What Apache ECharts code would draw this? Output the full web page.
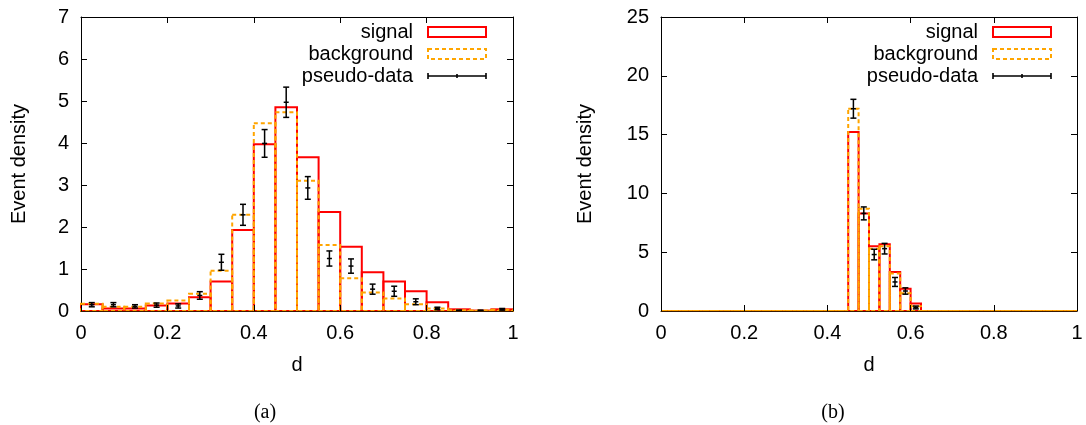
<!DOCTYPE html>
<html>
<head>
<meta charset="utf-8">
<script src="https://cdn.jsdelivr.net/npm/echarts@6/dist/echarts.min.js"></script>
<style>
html,body{margin:0;padding:0;background:#fff;}
#c{width:1086px;height:425px;}
</style>
</head>
<body>
<div id="c"></div>
<script>
// ---------- data ----------
// panel (a): 20 bins of width 0.05
const binStartA = [0,0.05,0.1,0.15,0.2,0.25,0.3,0.35,0.4,0.45,0.5,0.55,0.6,0.65,0.7,0.75,0.8,0.85,0.9,0.95];
const binWidthA = 0.05;
const signalA = [0.16,0.06,0.06,0.13,0.18,0.33,0.70,1.93,3.97,4.85,3.66,2.36,1.53,0.92,0.70,0.47,0.21,0.04,0.01,0.04];
const backgroundA = [0.17,0.10,0.10,0.18,0.25,0.41,0.96,2.29,4.47,4.73,3.10,1.57,0.78,0.44,0.30,0.16,0.06,0.02,0.01,0.03];
const pseudoA = [0.15,0.15,0.11,0.14,0.12,0.37,1.16,2.29,3.99,4.97,2.93,1.25,1.07,0.52,0.47,0.22,0.06,0.01,0.01,0.04];
const pseudoErrA = [0.05,0.05,0.04,0.05,0.05,0.09,0.19,0.25,0.33,0.36,0.27,0.18,0.17,0.12,0.12,0.07,0.03,0.01,0.01,0.02];

// panel (b): 40 bins of width 0.025
const binStartB = [0,0.025,0.05,0.075,0.1,0.125,0.15,0.175,0.2,0.225,0.25,0.275,0.3,0.325,0.35,0.375,0.4,0.425,0.45,0.475,
                   0.5,0.525,0.55,0.575,0.6,0.625,0.65,0.675,0.7,0.725,0.75,0.775,0.8,0.825,0.85,0.875,0.9,0.925,0.95,0.975];
const binWidthB = 0.025;
const signalB = [0,0,0,0,0,0,0,0,0,0,0,0,0,0,0,0,0,0,15.23,8.29,5.50,5.68,3.32,1.90,0.63,0,0,0,0,0,0,0,0,0,0,0,0,0,0,0];
const backgroundB = [0,0,0,0,0,0,0,0,0,0,0,0,0,0,0,0,0,0,17.2,8.70,5.30,5.50,3.18,1.50,0.40,0,0,0,0,0,0,0,0,0,0,0,0,0,0,0];
const pseudoB = [null,null,null,null,null,null,null,null,null,null,null,null,null,null,null,null,null,null,17.2,8.30,4.80,5.30,2.47,1.70,0.30,null,null,null,null,null,null,null,null,null,null,null,null,null,null,null];
const pseudoErrB = [0,0,0,0,0,0,0,0,0,0,0,0,0,0,0,0,0,0,0.80,0.55,0.45,0.45,0.38,0.27,0.12,0,0,0,0,0,0,0,0,0,0,0,0,0,0,0];

const xTicks = [0, 0.2, 0.4, 0.6, 0.8, 1];
const yMaxA = 7, yStepA = 1;
const yMaxB = 25, yStepB = 5;
const captions = ['(a)', '(b)'];
const names = ['signal', 'background', 'pseudo-data'];

// ---------- helpers ----------
const FONT = 'Liberation Sans, Arial, sans-serif';
function histData(starts, width, vals) {
  return starts.map((s, i) => [s, s + width, vals[i]]);
}
function errData(starts, width, vals, errs) {
  const out = [];
  starts.forEach((s, i) => {
    if (vals[i] !== null && vals[i] !== undefined) out.push([s + width / 2, vals[i], vals[i] - errs[i], vals[i] + errs[i]]);
  });
  return out;
}
function histSeries(name, gi, data, color, dashed) {
  return {
    type: 'custom', name: name, xAxisIndex: gi * 2, yAxisIndex: gi * 2,
    data: data, encode: { x: [0, 1], y: 2 }, clip: false, z: dashed ? 3 : 2,
    renderItem: function (params, api) {
      const p0 = api.coord([api.value(0), 0]);
      const p1 = api.coord([api.value(1), api.value(2)]);
      return {
        type: 'rect',
        shape: { x: p0[0], y: p1[1], width: p1[0] - p0[0], height: p0[1] - p1[1] },
        style: { fill: 'none', stroke: color, lineWidth: 2, lineDash: dashed ? [4, 3] : null }
      };
    }
  };
}
function errSeries(name, gi, data) {
  return {
    type: 'custom', name: name, xAxisIndex: gi * 2, yAxisIndex: gi * 2,
    data: data, encode: { x: 0, y: [1, 2, 3] }, clip: false, z: 5,
    renderItem: function (params, api) {
      const c = api.coord([api.value(0), api.value(1)]);
      const lo = api.coord([api.value(0), api.value(2)]);
      const hi = api.coord([api.value(0), api.value(3)]);
      const st = { stroke: '#000', lineWidth: 1.5, fill: 'none' };
      const cap = 3;
      return {
        type: 'group',
        children: [
          { type: 'line', shape: { x1: c[0], y1: lo[1], x2: c[0], y2: hi[1] }, style: st },
          { type: 'line', shape: { x1: c[0] - cap, y1: lo[1], x2: c[0] + cap, y2: lo[1] }, style: st },
          { type: 'line', shape: { x1: c[0] - cap, y1: hi[1], x2: c[0] + cap, y2: hi[1] }, style: st },
          { type: 'line', shape: { x1: c[0] - 2.5, y1: c[1], x2: c[0] + 2.5, y2: c[1] }, style: st }
        ]
      };
    }
  };
}
function axesFor(gi, yMax, yStep, yNameGap) {
  const axisLine = { show: true, onZero: false, lineStyle: { color: '#000', width: 1 } };
  const tick = { show: true, inside: true, length: 6, lineStyle: { color: '#000', width: 1 } };
  const x = [
    { type: 'value', gridIndex: gi, min: 0, max: 1, interval: 0.2, position: 'bottom', z: 10,
      name: 'd', nameLocation: 'middle', nameGap: 44,
      nameTextStyle: { fontFamily: FONT, fontSize: 20, color: '#000' },
      axisLine: { show: true, onZero: false, lineStyle: { color: '#3a1a00', width: 1 } },
      axisTick: tick, splitLine: { show: false },
      axisLabel: { fontFamily: FONT, fontSize: 20, color: '#000', margin: 12,
        customValues: xTicks, formatter: v => String(+v.toFixed(1)) } },
    { type: 'value', gridIndex: gi, min: 0, max: 1, interval: 0.2, position: 'top',
      axisLine: axisLine, axisTick: tick, splitLine: { show: false }, axisLabel: { show: false } }
  ];
  const y = [
    { type: 'value', gridIndex: gi, min: 0, max: yMax, interval: yStep, position: 'left',
      name: 'Event density', nameLocation: 'middle', nameGap: yNameGap, nameRotate: 90,
      nameTextStyle: { fontFamily: FONT, fontSize: 20, color: '#000' },
      axisLine: axisLine, axisTick: tick, splitLine: { show: false },
      axisLabel: { fontFamily: FONT, fontSize: 20, color: '#000', margin: 12 } },
    { type: 'value', gridIndex: gi, min: 0, max: yMax, interval: yStep, position: 'right',
      axisLine: axisLine, axisTick: tick, splitLine: { show: false }, axisLabel: { show: false } }
  ];
  return { x: x, y: y };
}
function legendFor(right) {
  return {
    orient: 'vertical', right: right, top: 22, padding: 0, align: 'right',
    itemWidth: 58, itemHeight: 10, itemGap: 2,
    textStyle: { fontFamily: FONT, fontSize: 20, color: '#000', lineHeight: 20, padding: [0, 10, 0, 0] },
    selectedMode: false,
    data: [
      { name: names[0], icon: 'rect', itemStyle: { color: 'rgba(0,0,0,0)', borderColor: '#ff0000', borderWidth: 2 } },
      { name: names[1], icon: 'rect', itemStyle: { color: 'rgba(0,0,0,0)', borderColor: '#ffa500', borderWidth: 2, borderType: [4, 3] } },
      { name: names[2], icon: 'path://M0,5L58,5M0,2L0,8M58,2L58,8M29,3L29,7',
        itemStyle: { color: 'rgba(0,0,0,0)', borderColor: '#000', borderWidth: 1.6 } }
    ]
  };
}

const axA = axesFor(0, yMaxA, yStepA, 52);
const axB = axesFor(1, yMaxB, yStepB, 66);

const option = {
  backgroundColor: '#fff',
  animation: false,
  grid: [
    { left: 81, right: 573, top: 17, bottom: 114 },
    { left: 661, right: 9, top: 17, bottom: 114 }
  ],
  xAxis: [axA.x[0], axA.x[1], axB.x[0], axB.x[1]],
  yAxis: [axA.y[0], axA.y[1], axB.y[0], axB.y[1]],
  title: [
    { text: captions[0], left: 260, top: 398, textAlign: 'center',
      textStyle: { fontFamily: 'Liberation Serif, DejaVu Serif, serif', fontSize: 20, fontWeight: 'normal', color: '#000' } },
    { text: captions[1], left: 828, top: 398, textAlign: 'center',
      textStyle: { fontFamily: 'Liberation Serif, DejaVu Serif, serif', fontSize: 20, fontWeight: 'normal', color: '#000' } }
  ],
  legend: [legendFor(599), legendFor(34)],
  series: [
    histSeries(names[0], 0, histData(binStartA, binWidthA, signalA), '#ff0000', false),
    histSeries(names[1], 0, histData(binStartA, binWidthA, backgroundA), '#ffa500', true),
    errSeries(names[2], 0, errData(binStartA, binWidthA, pseudoA, pseudoErrA)),
    histSeries(names[0], 1, histData(binStartB, binWidthB, signalB), '#ff0000', false),
    histSeries(names[1], 1, histData(binStartB, binWidthB, backgroundB), '#ffa500', true),
    errSeries(names[2], 1, errData(binStartB, binWidthB, pseudoB, pseudoErrB))
  ]
};
const chart = echarts.init(document.getElementById('c'), null, { renderer: 'canvas' });
chart.setOption(option);
</script>
</body>
</html>
